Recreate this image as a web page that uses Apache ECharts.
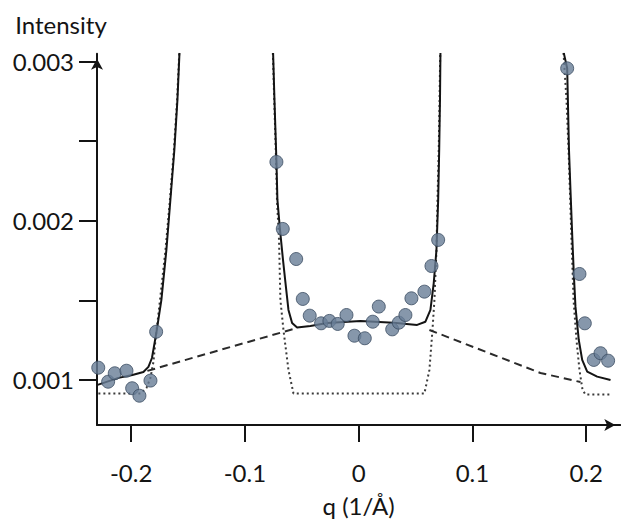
<!DOCTYPE html>
<html><head><meta charset="utf-8">
<script src="https://cdn.jsdelivr.net/npm/echarts@6/dist/echarts.min.js"></script>
<style>html,body{margin:0;padding:0;background:#fff}#c{width:621px;height:524px}</style>
</head><body><div id="c"></div>
<script>
// ---- tick values / labels ----
const xTickValues = [-0.2, -0.1, 0, 0.1, 0.2];
const xTickLabels = ['-0.2', '-0.1', '0', '0.1', '0.2'];
const yTickValues = [0.001, 0.0015, 0.002, 0.0025, 0.003];
const yLabelValues = [0.001, 0.002, 0.003];
const yTickLabels = ['0.001', '0.002', '0.003'];

// ---- measured data points [q, intensity] ----
const pointsLeft = [[-0.2289,0.001077],[-0.2202,0.000989],[-0.2144,0.001042],[-0.2041,0.001058],[-0.1991,0.000948],[-0.1927,0.000901],[-0.1830,0.000996],[-0.1780,0.001303]];
const pointsCenter = [[-0.0723,0.00237],[-0.0667,0.001949],[-0.0549,0.00176],[-0.0491,0.001509],[-0.0430,0.001404],[-0.0330,0.001356],[-0.0257,0.001371],[-0.0184,0.001352],[-0.0107,0.001408],[-0.0037,0.001278],[0.0054,0.001262],[0.0124,0.001366],[0.0177,0.001461],[0.0295,0.001318],[0.0353,0.00136],[0.0411,0.001408],[0.0464,0.001513],[0.0578,0.001555],[0.0640,0.001716],[0.0699,0.00188]];
const pointsRight = [[0.1833,0.002958],[0.1941,0.001666],[0.1988,0.001356],[0.2067,0.001126],[0.2126,0.001168],[0.2193,0.001121]];

// ---- total fit (solid) ----
const fitLeft = [[-0.2295,0.000969],[-0.2111,0.001013],[-0.1989,0.001031],[-0.1892,0.00105],[-0.1848,0.001082],[-0.1817,0.001138],[-0.1800,0.001207],[-0.1777,0.001302],[-0.1734,0.001503],[-0.1690,0.001817],[-0.1655,0.002131],[-0.1620,0.002445],[-0.1593,0.002759],[-0.1575,0.003055]];
const fitCenter = [[-0.0752,0.003055],[-0.0740,0.002759],[-0.0723,0.002382],[-0.0714,0.002131],[-0.0692,0.001949],[-0.0665,0.001754],[-0.0643,0.001609],[-0.0617,0.00144],[-0.0585,0.001358],[-0.0541,0.001329],[-0.0424,0.001339],[-0.0277,0.001358],[0.0016,0.001371],[0.0306,0.00136],[0.0514,0.001346],[0.0587,0.001366],[0.0631,0.00144],[0.0660,0.001609],[0.0684,0.001817],[0.0699,0.002131],[0.0708,0.002445],[0.0715,0.002759],[0.0719,0.003055]];
const fitRight = [[0.1803,0.003055],[0.1833,0.002959],[0.1849,0.002445],[0.1862,0.002194],[0.1879,0.00188],[0.1891,0.001672],[0.1906,0.001459],[0.1935,0.001251],[0.1965,0.001126],[0.2009,0.001052],[0.2097,0.001021],[0.2214,0.001]];

// ---- diffuse background (dashed) ----
const diffuseLeft = [[-0.1857,0.001057],[-0.1215,0.001189],[-0.0538,0.001327]];
const diffuseRight = [[0.0622,0.001314],[0.1598,0.001044],[0.1950,0.000987]];

// ---- Bragg peaks + flat background (dotted) ----
const braggLeft = [[-0.2288,0.000915],[-0.1917,0.000915],[-0.1865,0.00095],[-0.1830,0.001013],[-0.1804,0.001113],[-0.1786,0.001251],[-0.1746,0.001503],[-0.1698,0.001817],[-0.1659,0.002131],[-0.1624,0.002445],[-0.1596,0.002759],[-0.1577,0.003055]];
const braggCenter = [[-0.0754,0.003055],[-0.0742,0.002759],[-0.0726,0.002382],[-0.0718,0.002131],[-0.0700,0.001880],[-0.0688,0.001503],[-0.0661,0.001314],[-0.0617,0.001063],[-0.0573,0.000915],[0.0578,0.000915],[0.0622,0.001063],[0.0649,0.001314],[0.0666,0.001503],[0.0684,0.001817],[0.0693,0.002131],[0.0704,0.002445],[0.0711,0.002759],[0.0717,0.003055]];
const braggRight = [[0.1801,0.003055],[0.1827,0.002759],[0.1845,0.002445],[0.1871,0.00188],[0.1889,0.001503],[0.1915,0.001251],[0.1941,0.001063],[0.1968,0.000937],[0.1994,0.000909],[0.2214,0.000909]];

const FONT = 'Lato';
const INK = '#141414';

function pick(values, labels, v) {
  for (let i = 0; i < values.length; i++) if (Math.abs(values[i] - v) < 1e-9) return labels[i];
  return '';
}

const fitStyle = { color: INK, width: 2 };
const dashStyle = { color: '#2a2a2a', width: 2, type: [8, 5] };
const dotStyle = { color: '#3a3a3a', width: 2, type: [2, 3] };

function lineSeries(data, style) {
  return { type: 'line', data: data, showSymbol: false, symbol: 'none', smooth: false,
           lineStyle: style, silent: true, animation: false, z: 2 };
}
function pointSeries(data) {
  return { type: 'scatter', data: data, symbol: 'circle', symbolSize: 13,
           itemStyle: { color: '#687d96', borderColor: '#3b4c61', borderWidth: 1 },
           animation: false, z: 5 };
}

const chart = echarts.init(document.getElementById('c'), null, { renderer: 'svg' });
chart.setOption({
  backgroundColor: '#ffffff',
  animation: false,
  grid: { left: 97, right: 0.7, top: 53.7, bottom: 99, outerBoundsMode: 'none', containLabel: false },
  xAxis: {
    type: 'value', min: -0.23, max: 0.23, position: 'bottom',
    name: 'q (1/Å)', nameLocation: 'middle', nameGap: 68, nameMoveOverlap: false,
    nameTextStyle: { fontFamily: FONT, fontSize: 24, color: INK },
    axisLine: { show: true, onZero: false, symbol: ['none', 'arrow'], symbolSize: [9, 11], symbolOffset: [0, -5],
                lineStyle: { color: INK, width: 2 } },
    axisTick: { show: true, customValues: xTickValues, length: 17, inside: false, lineStyle: { color: INK, width: 2 } },
    axisLabel: { show: true, customValues: xTickValues, margin: 35, fontFamily: FONT, fontSize: 24, color: INK,
                 formatter: v => pick(xTickValues, xTickLabels, v) },
    splitLine: { show: false }
  },
  yAxis: {
    type: 'value', min: 0.000717, max: 0.00305, position: 'left',
    name: 'Intensity', nameLocation: 'end', nameGap: 17, nameMoveOverlap: false,
    nameTextStyle: { fontFamily: FONT, fontSize: 24, color: INK, align: 'center', padding: [0, 72, 0, 0] },
    axisLine: { show: true, onZero: false, symbol: ['none', 'arrow'], symbolSize: [9, 11], symbolOffset: [0, -5],
                lineStyle: { color: INK, width: 2 } },
    axisTick: { show: true, customValues: yTickValues, length: 18, inside: false, lineStyle: { color: INK, width: 2 } },
    axisLabel: { show: true, customValues: yLabelValues, margin: 23, fontFamily: FONT, fontSize: 24, color: INK,
                 formatter: v => pick(yLabelValues, yTickLabels, v) },
    splitLine: { show: false }
  },
  series: [
    lineSeries(braggLeft, dotStyle), lineSeries(braggCenter, dotStyle), lineSeries(braggRight, dotStyle),
    lineSeries(diffuseLeft, dashStyle), lineSeries(diffuseRight, dashStyle),
    lineSeries(fitLeft, fitStyle), lineSeries(fitCenter, fitStyle), lineSeries(fitRight, fitStyle),
    pointSeries(pointsLeft), pointSeries(pointsCenter), pointSeries(pointsRight)
  ]
});
</script></body></html>
